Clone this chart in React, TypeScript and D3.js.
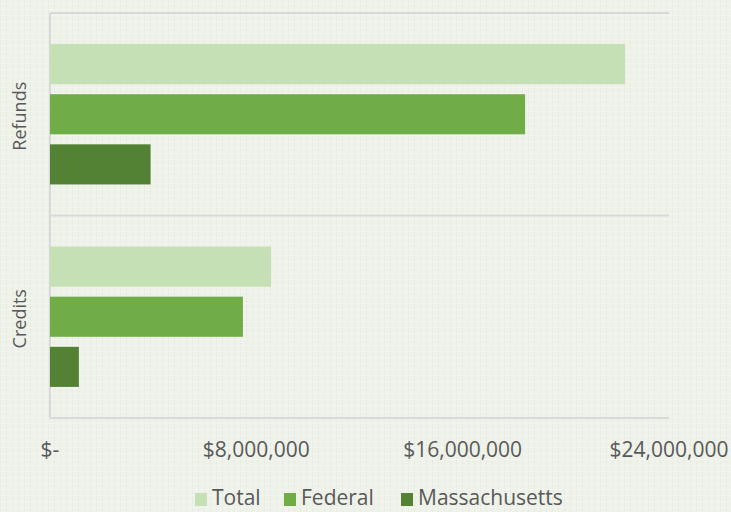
import React from "react";
import * as d3 from "d3";

const categories = ["Refunds", "Credits"];
const seriesNames = ["Total", "Federal", "Massachusetts"];
const totalValues = [22300000, 8570000];
const federalValues = [18420000, 7480000];
const massValues = [3900000, 1120000];
const xTicks = [0, 8000000, 16000000, 24000000];
const colors = ["#c5e0b4", "#70ad47", "#548235"];

const W = 731, H = 512;
const left = 50, right = 669, top = 13, bottom = 418;
const font = "'Open Sans', sans-serif";
const textColor = "#595959";

export default function App() {
  const series = [totalValues, federalValues, massValues];
  const x = d3.scaleLinear().domain([0, 24000000]).range([left, right]);
  const y0 = d3.scaleBand().domain(categories).range([top, bottom]).paddingInner(0).paddingOuter(0);
  const y1 = d3.scaleBand().domain(seriesNames).range([0, y0.bandwidth()]).paddingInner(0.2).paddingOuter(0.62);
  const fmt = (v: number) => (v === 0 ? "$-" : "$" + d3.format(",")(v));

  return (
    <svg width={W} height={H} style={{ position: "absolute", left: 0, top: 0 }}>
      <defs>
        <pattern id="tex" width="6" height="6" patternUnits="userSpaceOnUse">
          <rect width="6" height="6" fill="#eef2e9" />
          <rect x="0" y="0" width="1" height="6" fill="#e8ede3" />
          <rect x="0" y="3" width="6" height="1" fill="#f2f5ef" />
        </pattern>
      </defs>
      <rect width={W} height={H} fill="url(#tex)" />
      {[top, ...categories.map((c) => (y0(c) as number) + y0.bandwidth())].map((yy, i) => (
        <line key={i} x1={left} x2={right} y1={yy} y2={yy} stroke="#d9d9d9" strokeWidth={2} />
      ))}
      <line x1={left} x2={left} y1={top} y2={bottom} stroke="#d9d9d9" strokeWidth={2} />
      {categories.map((c, ci) =>
        seriesNames.map((s, si) => (
          <rect
            key={c + s}
            x={x(0)}
            y={(y0(c) as number) + (y1(s) as number)}
            width={x(series[si][ci]) - x(0)}
            height={y1.bandwidth()}
            fill={colors[si]}
          />
        ))
      )}
      {categories.map((c) => {
        const cy = (y0(c) as number) + y0.bandwidth() / 2 + 2;
        return (
          <text key={c} transform={`translate(26,${cy}) rotate(-90)`} textAnchor="middle" fontFamily={font} fontSize={18} fill={textColor}>
            {c}
          </text>
        );
      })}
      {xTicks.map((t) => (
        <text key={t} x={x(t)} y={457} textAnchor="middle" fontFamily={font} fontSize={21} fill={textColor}>
          {fmt(t)}
        </text>
      ))}
      {(() => {
        const starts = [195, 284, 401];
        return seriesNames.map((s, i) => (
          <g key={s}>
            <rect x={starts[i]} y={493} width={12} height={13} fill={colors[i]} />
            <text x={starts[i] + 17} y={505} fontFamily={font} fontSize={21} fill={textColor}>
              {s}
            </text>
          </g>
        ));
      })()}
    </svg>
  );
}
